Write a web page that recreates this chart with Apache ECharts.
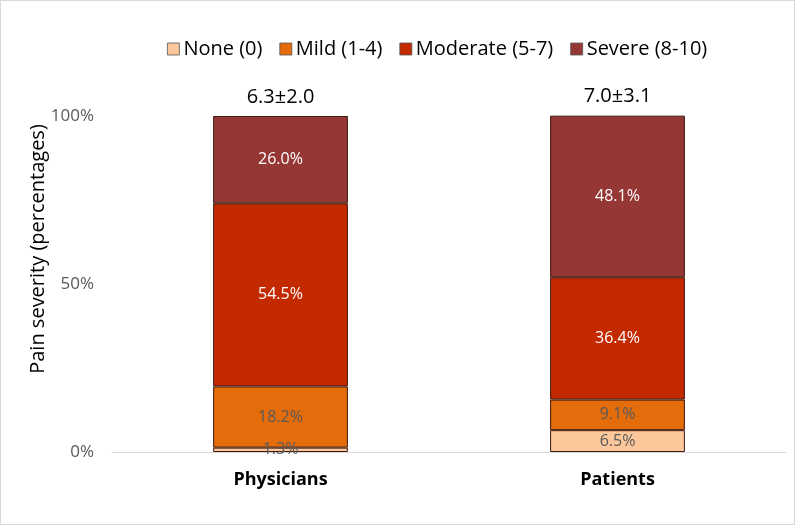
<!DOCTYPE html>
<html>
<head>
<meta charset="utf-8">
<script src="https://cdn.jsdelivr.net/npm/echarts@6/dist/echarts.min.js"></script>
<style>
html,body{margin:0;padding:0;background:#fff;}
#c{width:793px;height:523px;border:1px solid #d9d9d9;}
</style>
</head>
<body>
<div id="c"></div>
<script>
const categories = ['Physicians', 'Patients'];
const seriesNames = ['None (0)', 'Mild (1-4)', 'Moderate (5-7)', 'Severe (8-10)'];
const noneVals = [1.3, 6.5];
const mildVals = [18.2, 9.1];
const moderateVals = [54.5, 36.4];
const severeVals = [26.0, 48.1];
const meanLabels = ['6.3±2.0', '7.0±3.1'];
const yTicks = [0, 50, 100];
const yAxisTitle = 'Pain severity (percentages)';

const colors = ['#FBC79B', '#E46C0A', '#C32A00', '#953735'];
const labelColors = ['#595959', '#595959', '#ffffff', '#ffffff'];
const FONT = 'Open Sans';
const allVals = [noneVals, mildVals, moderateVals, severeVals];

const series = allVals.map((vals, i) => ({
  name: seriesNames[i],
  type: 'bar',
  stack: 'total',
  barWidth: '40%',
  data: vals,
  itemStyle: { color: colors[i], borderColor: '#3b1a10', borderWidth: 1 },
  label: {
    show: true,
    position: 'inside',
    formatter: p => p.value.toFixed(1) + '%',
    color: labelColors[i],
    fontFamily: FONT,
    fontSize: 16
  }
}));
series.push({
  name: 'mean',
  type: 'bar',
  stack: 'total',
  barWidth: '40%',
  clip: false,
  data: [0, 0],
  itemStyle: { color: 'transparent' },
  label: {
    show: true,
    position: 'top',
    distance: 9,
    formatter: p => meanLabels[p.dataIndex],
    color: '#000',
    fontFamily: FONT,
    fontSize: 20
  }
});

const chart = echarts.init(document.getElementById('c'));
chart.setOption({
  animation: false,
  textStyle: { fontFamily: FONT },
  legend: {
    data: seriesNames,
    top: 33,
    left: 161,
    itemWidth: 12,
    itemHeight: 12,
    itemGap: 17,
    icon: 'rect',
    itemStyle: { borderColor: '#555', borderWidth: 0.8 },
    textStyle: { fontFamily: FONT, fontSize: 20, color: '#000', padding: [0, 0, 0, -1] }
  },
  graphic: [{
    type: 'text',
    x: 37,
    y: 248,
    rotation: Math.PI / 2,
    style: {
      text: yAxisTitle,
      x: 0, y: 0,
      align: 'center',
      verticalAlign: 'middle',
      fontFamily: FONT,
      fontSize: 20,
      fill: '#000'
    }
  }],
  grid: { left: 111, right: 8, top: 115, bottom: 72 },
  xAxis: {
    type: 'category',
    data: categories,
    axisLine: { lineStyle: { color: '#d9d9d9' } },
    axisTick: { show: false },
    axisLabel: { fontFamily: FONT, fontSize: 18, fontWeight: 'bold', color: '#000', margin: 19 }
  },
  yAxis: {
    type: 'value',
    min: 0,
    max: 100,
    interval: 50,
    splitLine: { show: false },
    axisLine: { show: false },
    axisTick: { show: false },
    axisLabel: {
      fontFamily: FONT, fontSize: 17, color: '#595959', margin: 18,
      formatter: v => yTicks.includes(v) ? v + '%' : ''
    }
  },
  series: series
});
</script>
</body>
</html>
